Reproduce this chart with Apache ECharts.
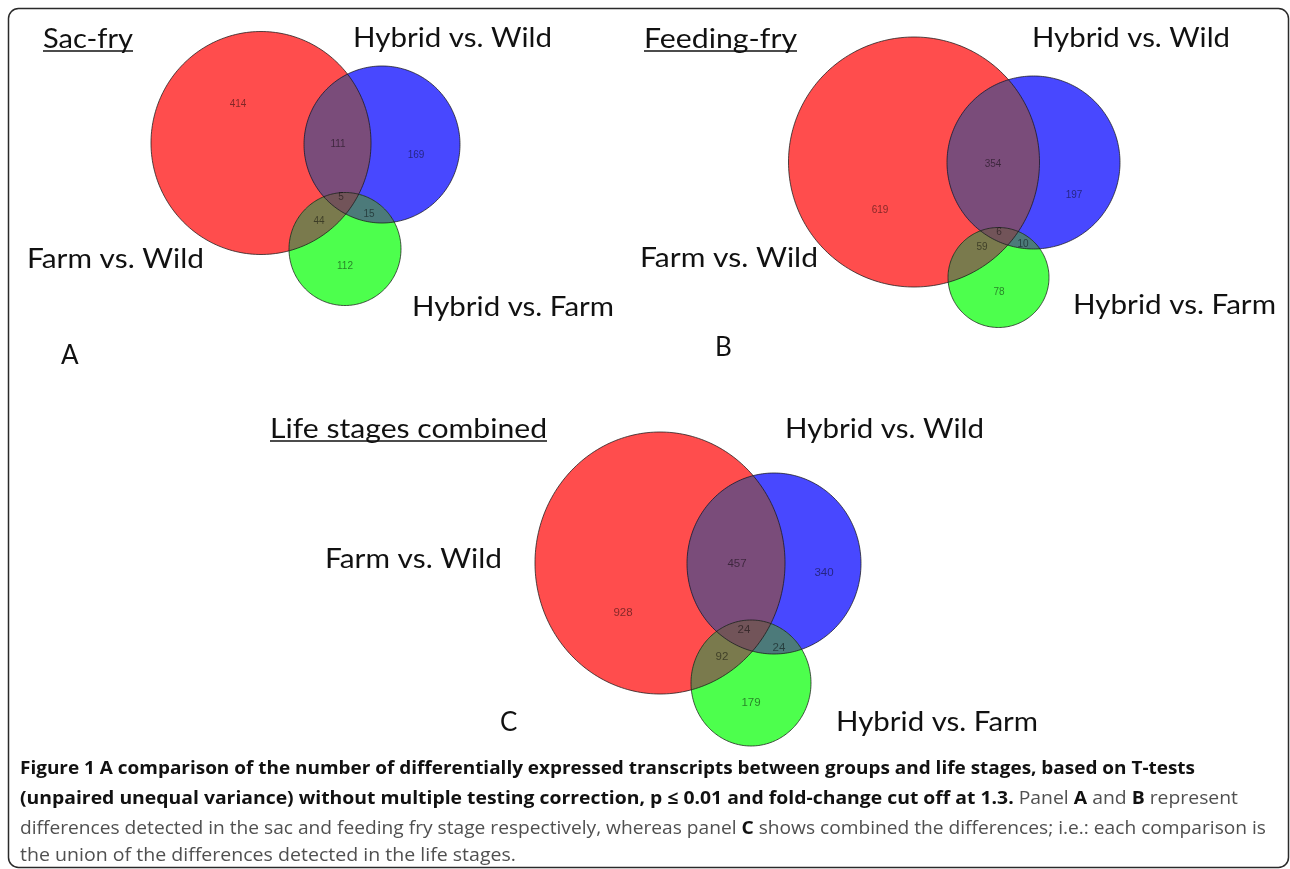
<!DOCTYPE html>
<html><head><meta charset="utf-8">
<script src="https://cdn.jsdelivr.net/npm/echarts@6/dist/echarts.min.js"></script>
<style>html,body{margin:0;padding:0;background:#fff}#c{width:1290px;height:869px}</style>
</head><body><div id="c"></div>
<script>
// ---------------- data ----------------
const panelTitles = ['Sac-fry', 'Feeding-fry', 'Life stages combined'];
const panelLetters = ['A', 'B', 'C'];
const setNames = ['Farm vs. Wild', 'Hybrid vs. Wild', 'Hybrid vs. Farm'];
// region order: FW only, FW∩HW, HW only, all three, FW∩HF, HW∩HF, HF only
const sacFryCounts = [414, 111, 169, 5, 44, 15, 112];
const feedingFryCounts = [619, 354, 197, 6, 59, 10, 78];
const combinedCounts = [928, 457, 340, 24, 92, 24, 179];
const captionLines = [
  [['Figure 1 A comparison of the number of differentially expressed transcripts between groups and life stages, based on T-tests', 1]],
  [['(unpaired unequal variance) without multiple testing correction, p \u2264 0.01 and fold-change cut off at 1.3.', 1], [' Panel ', 0], ['A', 1], [' and ', 0], ['B', 1], [' represent', 0]],
  [['differences detected in the sac and feeding fry stage respectively, whereas panel ', 0], ['C', 1], [' shows combined the differences; i.e.: each comparison is', 0]],
  [['the union of the differences detected in the life stages.', 0]]
];
const panelCounts = [sacFryCounts, feedingFryCounts, combinedCounts];

// ---------------- layout (positions / sizes / styles) ----------------
const layout = [
  { sets: [[261, 143, 110, 111.5], [382, 144.5, 78, 78.5], [345, 249, 56, 56.5]],
    countPos: [[238, 104], [338, 144], [416, 155], [341, 197], [319, 221], [369, 214], [345, 266]],
    countFont: 10, title: [43, 38, 90], underlineY: 51, letter: [61, 354],
    names: [[27, 258, 177], [353, 37.5, 199], [412, 306.5, 202]] },
  { sets: [[914, 162, 125.5, 125], [1033.5, 162.5, 86.5, 86.5], [998.5, 277.5, 50.5, 50]],
    countPos: [[880, 210], [993, 164], [1074, 195], [999, 232], [982, 247], [1023, 244], [999, 292]],
    countFont: 10, title: [644, 38, 153], underlineY: 51, letter: [715, 346.5],
    names: [[640, 257.5, 178], [1032, 37.5, 198], [1073, 304, 203]] },
  { sets: [[660, 563, 125, 131], [774, 563.5, 87, 90.5], [751, 683, 60, 63]],
    countPos: [[623, 613], [737, 564], [824, 573], [744, 630], [722, 657], [779, 648], [751, 703]],
    countFont: 11.5, title: [270, 428, 277], underlineY: 441, letter: [500, 721.5],
    names: [[325, 558, 177], [785, 428.5, 199], [836, 721, 202]] }
];
const fillColors = ['#FF4D4D', '#4848FF', '#4DFF4D', '#7A4C7A', '#7A7A4D', '#4C7A7A', '#725459'];
const combos = [[0], [1], [2], [0, 1], [0, 2], [1, 2], [0, 1, 2]];
const captionY = [769, 799, 829, 856];
const captionRight = [1195, 1238, 1266, 516];
const labelFont = 'Lato';
const labelSize = 26;

// ---------------- geometry helpers ----------------
function ellipsePoly(e, n) {
  const pts = [];
  for (let i = 0; i < n; i++) {
    const t = 2 * Math.PI * i / n;
    pts.push([e[0] + e[2] * Math.cos(t), e[1] + e[3] * Math.sin(t)]);
  }
  return pts;
}
function cross(ax, ay, bx, by) { return ax * by - ay * bx; }
function clipPoly(subject, clip, center) {
  let out = subject;
  for (let i = 0; i < clip.length && out.length; i++) {
    const a = clip[i], b = clip[(i + 1) % clip.length];
    const ex = b[0] - a[0], ey = b[1] - a[1];
    const s = Math.sign(cross(ex, ey, center[0] - a[0], center[1] - a[1]));
    const inside = p => s * cross(ex, ey, p[0] - a[0], p[1] - a[1]) >= 0;
    const inp = out; out = [];
    let S = inp[inp.length - 1];
    for (const E of inp) {
      const inE = inside(E), inS = inside(S);
      if (inE !== inS) {
        const dx = E[0] - S[0], dy = E[1] - S[1];
        const t = cross(a[0] - S[0], a[1] - S[1], ex, ey) / cross(dx, dy, ex, ey);
        out.push([S[0] + t * dx, S[1] + t * dy]);
      }
      if (inE) out.push(E);
      S = E;
    }
  }
  return out;
}
const polyCache = {};
function regionPoly(p, k) {
  const key = p + '_' + k;
  if (polyCache[key]) return polyCache[key];
  const sets = layout[p].sets;
  const c = combos[k];
  let poly = ellipsePoly(sets[c[0]], 240);
  for (let j = 1; j < c.length; j++) {
    const e = sets[c[j]];
    poly = clipPoly(poly, ellipsePoly(e, 240), [e[0], e[1]]);
  }
  polyCache[key] = poly;
  return poly;
}

// ---------------- text measuring ----------------
const mctx = document.createElement('canvas').getContext('2d');
function measure(text, font) { mctx.font = font; return mctx.measureText(text).width; }

// ---------------- build series data ----------------
const fillData = [], outlineData = [], countData = [];
for (let p = 0; p < 3; p++) {
  for (let k = 0; k < combos.length; k++) fillData.push([p, k]);
  for (let s = 0; s < 3; s++) outlineData.push([p, s]);
  panelCounts[p].forEach((v, r) => {
    countData.push({ value: [layout[p].countPos[r][0], layout[p].countPos[r][1], v],
      label: { fontSize: layout[p].countFont } });
  });
}

// ---------------- graphic texts ----------------
const graphics = [];
graphics.push({ type: 'rect', shape: { x: 8.5, y: 8.5, width: 1280, height: 859, r: 10 },
  style: { fill: 'none', stroke: '#2a2a2a', lineWidth: 1.5 }, silent: true });
function addLabel(text, x, y, w) {
  const font = labelSize + 'px ' + labelFont;
  const sc = w ? w / measure(text, font) : 1;
  graphics.push({ type: 'text', x: x, y: y + 1.5, scaleX: sc, silent: true,
    style: { text: text, fontFamily: labelFont, fontSize: labelSize, fill: '#111',
      align: 'left', verticalAlign: 'middle' } });
}
layout.forEach((L, p) => {
  addLabel(panelTitles[p], L.title[0], L.title[1], L.title[2]);
  graphics.push({ type: 'line', silent: true,
    shape: { x1: L.title[0], y1: L.underlineY, x2: L.title[0] + L.title[2], y2: L.underlineY },
    style: { stroke: '#111', lineWidth: 1.5 } });
  addLabel(panelLetters[p], L.letter[0], L.letter[1], 0);
  setNames.forEach((n, s) => addLabel(n, L.names[s][0], L.names[s][1], L.names[s][2]));
});
const capSize = 18, capFam = 'Open Sans';
captionLines.forEach((segs, i) => {
  let w = 0;
  segs.forEach(s => { w += measure(s[0], (s[1] ? 'bold ' : '') + capSize + 'px "' + capFam + '"'); });
  const sc = (captionRight[i] - 20) / w;
  const text = segs.map(s => '{' + (s[1] ? 'b' : 'n') + '|' + s[0] + '}').join('');
  graphics.push({ type: 'text', x: 20, y: captionY[i], scaleX: sc, silent: true,
    style: { text: text, align: 'left', verticalAlign: 'middle',
      rich: {
        b: { fontFamily: capFam, fontSize: capSize, fontWeight: 'bold', fill: '#111' },
        n: { fontFamily: capFam, fontSize: capSize, fill: '#505050' }
      } } });
});

// ---------------- chart ----------------
const chart = echarts.init(document.getElementById('c'), null, { renderer: 'canvas' });
chart.setOption({
  animation: false,
  backgroundColor: '#ffffff',
  grid: { left: 0, right: 0, top: 0, bottom: 0 },
  xAxis: { type: 'value', min: 0, max: 1290, show: false },
  yAxis: { type: 'value', min: 0, max: 869, inverse: true, show: false },
  series: [
    { type: 'custom', silent: true, clip: false, z: 2, data: fillData,
      renderItem: function (params, api) {
        const p = api.value(0), k = api.value(1);
        const poly = regionPoly(p, k);
        if (!poly.length) return;
        return { type: 'polygon', z2: k, shape: { points: poly.map(pt => api.coord(pt)) },
          style: { fill: fillColors[k], stroke: null } };
      } },
    { type: 'custom', silent: true, clip: false, z: 3, data: outlineData,
      renderItem: function (params, api) {
        const p = api.value(0), s = api.value(1);
        const poly = ellipsePoly(layout[p].sets[s], 240);
        return { type: 'polygon', shape: { points: poly.map(pt => api.coord(pt)) },
          style: { fill: 'none', stroke: 'rgba(25,25,25,0.75)', lineWidth: 1 } };
      } },
    { type: 'scatter', silent: true, z: 4, symbolSize: 0, data: countData,
      label: { show: true, position: 'inside', fontFamily: 'Liberation Sans',
        color: 'rgba(0,0,0,0.62)', formatter: p => String(p.value[2]) } }
  ],
  graphic: graphics
});
</script></body></html>
